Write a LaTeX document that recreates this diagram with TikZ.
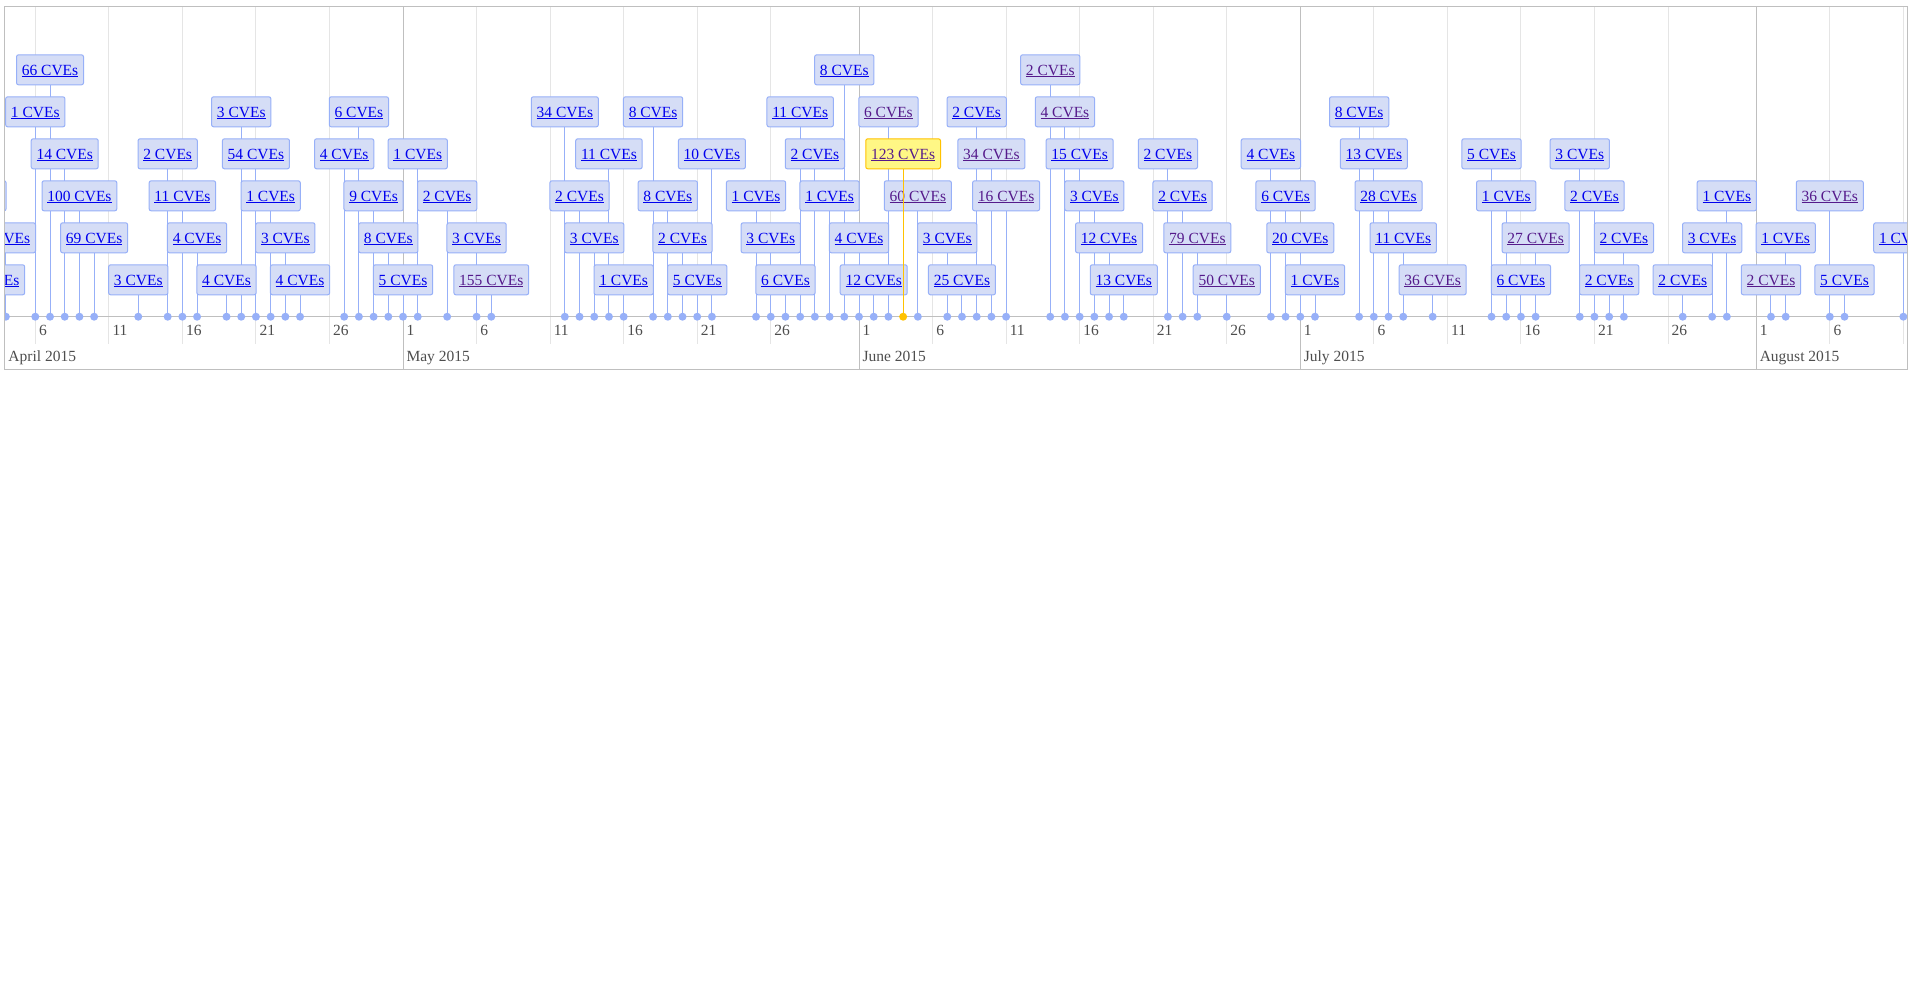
\documentclass[tikz,border=0pt]{standalone}
\usepackage{fontspec}
\setmainfont{Liberation Serif}
\definecolor{itemfill}{RGB}{213,221,246}
\definecolor{itemborder}{RGB}{151,176,248}
\definecolor{selfill}{RGB}{255,247,133}
\definecolor{selborder}{RGB}{255,194,0}
\definecolor{linku}{RGB}{0,0,238}
\definecolor{linkv}{RGB}{85,26,139}
\definecolor{gridminorc}{RGB}{229,229,229}
\definecolor{gridmajorc}{RGB}{191,191,191}
\definecolor{axistext}{RGB}{77,77,77}
\pgfdeclarelayer{grid}
\pgfdeclarelayer{lines}
\pgfdeclarelayer{top}
\pgfsetlayers{grid,lines,main,top}
\newcommand\lnk[1]{\setbox0\hbox{#1}\rlap{\vrule width\wd0 height -1.3pt depth 2.3pt}\box0}
\newcommand\tlfont{\fontsize{15.5pt}{18pt}\selectfont}
\begin{document}
\begin{tikzpicture}[x=1pt,y=-1pt,
  cvebox/.style={draw=itemborder, fill=itemfill, line width=1pt, rounded corners=2pt,
    inner xsep=5.3pt, inner ysep=0pt, minimum height=30pt, text height=10.5pt, text depth=0pt,
    font=\tlfont},
  selbox/.style={cvebox, draw=selborder, fill=selfill, text=linkv},
  itemdot/.style={circle, fill=itemborder, inner sep=0pt, minimum size=8pt},
  itemline/.style={draw=itemborder, line width=1pt},
  gridminor/.style={draw=gridminorc, line width=1pt},
  gridmajor/.style={draw=gridmajorc, line width=1pt},
  daylabel/.style={anchor=base west, inner sep=0pt, text=axistext, font=\tlfont},
  frameline/.style={draw=gridmajorc, line width=1pt}]
\useasboundingbox (0,0) rectangle (1910,1005);
\begin{pgfonlayer}{grid}
\fill[white] (0,0) rectangle (1910,1005);
\foreach \d/\lab [count=\k] in {0/6,5/11,10/16,15/21,20/26,30/6,35/11,40/16,45/21,50/26,61/6,66/11,71/16,76/21,81/26,91/6,96/11,101/16,106/21,111/26,122/6}{
  \draw[gridminor] ({35.3+14.709*\d},6) -- ({35.3+14.709*\d},344);
  \node[daylabel] (dl\k) at ({38.8+14.709*\d},335.5) {\lab};
}
\draw[gridminor] ({35.3+14.709*127},6) -- ({35.3+14.709*127},344);
\foreach \d/\mon [count=\k] in {25/May 2015,56/June 2015,86/July 2015,117/August 2015}{
  \draw[gridmajor] ({35.3+14.709*\d},6) -- ({35.3+14.709*\d},369);
  \node[daylabel] (ml\k) at ({38.6+14.709*\d},335.5) {1};
  \node[daylabel] (mn\k) at ({38.6+14.709*\d},361.5) {\mon};
}
\node[daylabel] (mn0) at (8.3,361.5) {April 2015};
\draw[gridmajor] (4.3,316.7) -- (1907.5,316.7);
\end{pgfonlayer}
\foreach \d/\l/\t/\s [count=\n] in {
-4/3/1 CVEs/u, -3/1/10 CVEs/u, -2/2/1 CVEs/u,
0/5/1 CVEs/u, 1/6/66 CVEs/u, 2/4/14 CVEs/u, 3/3/100 CVEs/u, 4/2/69 CVEs/u,
7/1/3 CVEs/u, 9/4/2 CVEs/u, 10/3/11 CVEs/u, 11/2/4 CVEs/u, 13/1/4 CVEs/u,
14/5/3 CVEs/u, 15/4/54 CVEs/u, 16/3/1 CVEs/u, 17/2/3 CVEs/u, 18/1/4 CVEs/u,
21/4/4 CVEs/u, 22/5/6 CVEs/u, 23/3/9 CVEs/u, 24/2/8 CVEs/u, 25/1/5 CVEs/u,
26/4/1 CVEs/u, 28/3/2 CVEs/u, 30/2/3 CVEs/u, 31/1/155 CVEs/v,
36/5/34 CVEs/u, 37/3/2 CVEs/u, 38/2/3 CVEs/u, 39/4/11 CVEs/u, 40/1/1 CVEs/u,
42/5/8 CVEs/u, 43/3/8 CVEs/u, 44/2/2 CVEs/u, 45/1/5 CVEs/u, 46/4/10 CVEs/u,
49/3/1 CVEs/u, 50/2/3 CVEs/u, 51/1/6 CVEs/u, 52/5/11 CVEs/u, 53/4/2 CVEs/u,
54/3/1 CVEs/u, 55/6/8 CVEs/u, 56/2/4 CVEs/u, 57/1/12 CVEs/u, 58/5/6 CVEs/v,
60/3/60 CVEs/v, 62/2/3 CVEs/u, 63/1/25 CVEs/u, 64/5/2 CVEs/u, 65/4/34 CVEs/v,
66/3/16 CVEs/v, 69/6/2 CVEs/v, 70/5/4 CVEs/v, 71/4/15 CVEs/u, 72/3/3 CVEs/u,
73/2/12 CVEs/u, 74/1/13 CVEs/u, 77/4/2 CVEs/u, 78/3/2 CVEs/u, 79/2/79 CVEs/v,
81/1/50 CVEs/v, 84/4/4 CVEs/u, 85/3/6 CVEs/u, 86/2/20 CVEs/u, 87/1/1 CVEs/u,
90/5/8 CVEs/u, 91/4/13 CVEs/u, 92/3/28 CVEs/u, 93/2/11 CVEs/u, 95/1/36 CVEs/v,
99/4/5 CVEs/u, 100/3/1 CVEs/u, 101/1/6 CVEs/u, 102/2/27 CVEs/v,
105/4/3 CVEs/u, 106/3/2 CVEs/u, 107/1/2 CVEs/u, 108/2/2 CVEs/u,
112/1/2 CVEs/u, 114/2/3 CVEs/u, 115/3/1 CVEs/u, 118/1/2 CVEs/v, 119/2/1 CVEs/u,
122/3/36 CVEs/v, 123/1/5 CVEs/u, 127/2/1 CVEs/u}{
  \pgfmathsetmacro{\xx}{35.3+14.709*\d}
  \pgfmathsetmacro{\yy}{279.8-42*(\l-1)}
  \node[cvebox, text=link\s] (b\n) at (\xx,\yy) {\lnk{\t}};
  \node[itemdot] (d\n) at (\xx,316.7) {};
  \begin{pgfonlayer}{lines}
    \draw[itemline] (b\n.south) -- (d\n.center);
  \end{pgfonlayer}
}
\begin{pgfonlayer}{top}
  \node[selbox] (sel) at ({35.3+14.709*59},153.8) {\lnk{123 CVEs}};
  \node[itemdot, fill=selborder] (seldot) at ({35.3+14.709*59},316.7) {};
  \draw[itemline, draw=selborder] (sel.south) -- (seldot.center);
  \fill[white] (-60,0) rectangle (4.3,1005);
  \fill[white] (1907.5,0) rectangle (1990,1005);
  \draw[frameline] (4.3,6.2) rectangle (1907.5,369.2);
\end{pgfonlayer}
\end{tikzpicture}
\end{document}
